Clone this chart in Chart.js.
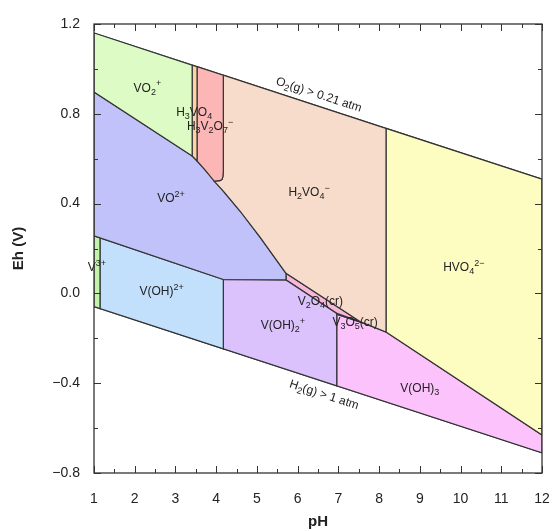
<!DOCTYPE html>
<html>
<head>
<meta charset="utf-8">
<script src="https://cdn.jsdelivr.net/npm/chart.js@4.4.0/dist/chart.umd.min.js"></script>
<style>
  html, body { margin: 0; padding: 0; background: #fff; }
  #wrap { width: 553px; height: 531px; }
</style>
</head>
<body>
<div id="wrap"><canvas id="myChart"></canvas></div>
<script>
// water stability lines [pH, Eh]
var o2Line = [[1, 1.160], [12, 0.509]];
var h2Line = [[1, -0.059], [12, -0.710]];

// predominance fields, each a closed outline of [pH, Eh] points
var vo2Field    = [[1, 1.160], [3.41, 1.017], [3.41, 0.612], [1, 0.897]];
var h3vo4Field  = [[3.41, 1.017], [3.53, 1.010], [3.53, 0.590], [3.41, 0.612]];
var h3v2o7Field = [[3.53, 1.010], [4.175, 0.972], [4.175, 0.545], [4.165, 0.520], [4.14, 0.507], [4.09, 0.502], [3.95, 0.500], [3.725, 0.550], [3.53, 0.590]];
var h2vo4Field  = [[4.175, 0.972], [8.17, 0.735], [8.17, -0.172], [7.55, -0.127], [5.714, 0.0895], [5.076, 0.251], [4.585, 0.367], [4.175, 0.456], [3.95, 0.500], [4.09, 0.502], [4.14, 0.507], [4.165, 0.520], [4.175, 0.545]];
var hvo4Field   = [[8.17, 0.735], [12, 0.509], [12, -0.631], [8.17, -0.172]];
var vo2pField   = [[1, 0.897], [3.41, 0.612], [3.53, 0.590], [3.725, 0.550], [3.922, 0.510], [4.175, 0.456], [4.585, 0.367], [5.076, 0.251], [5.714, 0.0895], [5.714, 0.060], [4.175, 0.062], [1, 0.256]];
var v3Field     = [[1, 0.256], [1.147, 0.247], [1.147, -0.068], [1, -0.059]];
var voh2pField  = [[1.147, 0.247], [4.175, 0.062], [4.175, -0.247], [1.147, -0.068]];
var voh2Field   = [[4.175, 0.062], [5.714, 0.060], [6.96, -0.089], [6.96, -0.412], [4.175, -0.247]];
var v2o4Field   = [[5.714, 0.0895], [7.55, -0.127], [6.96, -0.089], [5.714, 0.060]];
var v3o5Field   = [[6.96, -0.089], [7.55, -0.127], [7.62, -0.133], [6.96, -0.093]];
var voh3Field   = [[6.96, -0.093], [7.62, -0.133], [8.17, -0.172], [12, -0.631], [12, -0.710], [6.96, -0.412]];

var fields = [vo2Field, h3vo4Field, h3v2o7Field, h2vo4Field, hvo4Field, vo2pField, v3Field, voh2pField, voh2Field, v2o4Field, v3o5Field, voh3Field];
var fieldColors = ['#ddfbc4', '#fcd2a6', '#fcb6b6', '#f8dccb', '#fdfdc2', '#c2c2fa', '#c2f4ac', '#c2e0fc', '#dcc2fc', '#f8b6d8', '#f4bcf0', '#fcc2fc'];

// field names (_ sub, ^ sup) and where they sit
var labelText = ['VO_2^+', 'H_3VO_4', 'H_3V_2O_7^−', 'VO^{2+}', 'H_2VO_4^−', 'HVO_4^{2−}', 'V^{3+}', 'V(OH)^{2+}', 'V_2O_4(cr)', 'V(OH)_2^+', 'V_3O_5(cr)', 'V(OH)_3'];
var labelPH = [2.31, 3.46, 3.85, 2.89, 6.28, 10.08, 1.07, 2.66, 6.56, 5.64, 7.41, 9.0];
var labelEh = [0.914, 0.804, 0.741, 0.420, 0.447, 0.113, 0.113, 0.008, -0.037, -0.145, -0.132, -0.423];

var lineText = ['O_2(g) > 0.21 atm', 'H_2(g) > 1 atm'];
var linePH = [6.52, 6.65];
var lineEh = [0.884, -0.453];

Chart.defaults.font.family = '"Liberation Sans", Arial, sans-serif';
Chart.defaults.color = '#222';

function toPoints(arr) {
  var pts = arr.map(function (p) { return {x: p[0], y: p[1]}; });
  pts.push({x: arr[0][0], y: arr[0][1]});
  return pts;
}

var datasets = fields.map(function (f, i) {
  return {
    data: toPoints(f),
    showLine: true,
    fill: 'shape',
    backgroundColor: fieldColors[i],
    borderColor: '#333',
    borderWidth: 1.2,
    pointRadius: 0,
    tension: 0
  };
});
[o2Line, h2Line].forEach(function (l) {
  datasets.push({
    data: l.map(function (p) { return {x: p[0], y: p[1]}; }),
    showLine: true, fill: false, borderColor: '#333', borderWidth: 1.2, pointRadius: 0
  });
});

function parseChem(s) {
  var out = [], i = 0, buf = '';
  while (i < s.length) {
    var c = s[i];
    if (c === '_' || c === '^') {
      if (buf) { out.push({t: buf, m: 0}); buf = ''; }
      var mode = c === '_' ? 1 : -1, txt;
      if (s[i + 1] === '{') {
        var j = s.indexOf('}', i);
        txt = s.slice(i + 2, j); i = j + 1;
      } else { txt = s[i + 1]; i += 2; }
      out.push({t: txt, m: mode});
    } else { buf += c; i++; }
  }
  if (buf) out.push({t: buf, m: 0});
  return out;
}

function drawChem(ctx, s, x, y, size) {
  var segs = parseChem(s);
  var big = size + 'px "Liberation Sans", Arial, sans-serif';
  var small = Math.round(size * 0.72) + 'px "Liberation Sans", Arial, sans-serif';
  var w = 0;
  segs.forEach(function (g) { ctx.font = g.m ? small : big; g.w = ctx.measureText(g.t).width; w += g.w; });
  var cx = x - w / 2;
  ctx.textAlign = 'left';
  ctx.textBaseline = 'middle';
  segs.forEach(function (g) {
    ctx.font = g.m ? small : big;
    var dy = g.m === 1 ? size * 0.32 : (g.m === -1 ? -size * 0.38 : 0);
    ctx.fillText(g.t, cx, y + dy);
    cx += g.w;
  });
}

var framePlugin = {
  id: 'frame',
  afterDraw: function (chart) {
    var ctx = chart.ctx, a = chart.chartArea;
    var xs = chart.scales.x, ys = chart.scales.y;
    ctx.save();
    ctx.strokeStyle = '#333';
    ctx.lineWidth = 1.3;
    ctx.strokeRect(a.left, a.top, a.right - a.left, a.bottom - a.top);
    ctx.lineWidth = 1;
    ctx.beginPath();
    xs.ticks.forEach(function (t) {
      var px = Math.round(xs.getPixelForValue(t.value)) + 0.5;
      var len = Math.abs(t.value - Math.round(t.value)) < 1e-6 ? 7 : 4;
      ctx.moveTo(px, a.bottom); ctx.lineTo(px, a.bottom - len);
      ctx.moveTo(px, a.top); ctx.lineTo(px, a.top + len);
    });
    ys.ticks.forEach(function (t) {
      var py = Math.round(ys.getPixelForValue(t.value)) + 0.5;
      var r = t.value / 0.4;
      var len = Math.abs(r - Math.round(r)) < 1e-6 ? 7 : 4;
      ctx.moveTo(a.left, py); ctx.lineTo(a.left + len, py);
      ctx.moveTo(a.right, py); ctx.lineTo(a.right - len, py);
    });
    ctx.stroke();
    ctx.restore();
  }
};

var labelPlugin = {
  id: 'chemLabels',
  afterDatasetsDraw: function (chart) {
    var ctx = chart.ctx, xs = chart.scales.x, ys = chart.scales.y;
    ctx.save();
    ctx.fillStyle = '#222';
    labelText.forEach(function (s, i) {
      drawChem(ctx, s, xs.getPixelForValue(labelPH[i]), ys.getPixelForValue(labelEh[i]), 12);
    });
    // slope of the water lines in pixels
    var ang = Math.atan2(ys.getPixelForValue(o2Line[1][1]) - ys.getPixelForValue(o2Line[0][1]),
                         xs.getPixelForValue(o2Line[1][0]) - xs.getPixelForValue(o2Line[0][0]));
    lineText.forEach(function (s, i) {
      ctx.save();
      ctx.translate(xs.getPixelForValue(linePH[i]), ys.getPixelForValue(lineEh[i]));
      ctx.rotate(ang);
      drawChem(ctx, s, 0, 0, 12);
      ctx.restore();
    });
    ctx.restore();
  }
};

var ctx = document.getElementById('myChart');
var myChart = new Chart(ctx, {
  type: 'scatter',
  data: { datasets: datasets },
  options: {
    responsive: true,
    maintainAspectRatio: false,
    animation: false,
    layout: { padding: { left: 0, right: 0, top: 24, bottom: 0 } },
    plugins: { legend: { display: false }, tooltip: { enabled: false } },
    scales: {
      x: {
        type: 'linear', min: 1, max: 12,
        grid: { display: false }, border: { display: false },
        ticks: {
          stepSize: 0.5, autoSkip: false, maxRotation: 0, padding: 10,
          font: { size: 14 },
          callback: function (v) { return Math.abs(v - Math.round(v)) < 1e-6 ? String(Math.round(v)) : ''; }
        },
        title: { display: true, text: 'pH', font: { size: 15, weight: 'bold' }, padding: { top: 0, bottom: 0 } },
        afterFit: function (s) { s.height = 58; s.paddingLeft = 0; s.paddingRight = 11; }
      },
      y: {
        type: 'linear', min: -0.8, max: 1.2,
        grid: { display: false }, border: { display: false },
        ticks: {
          stepSize: 0.2, autoSkip: false, padding: 6,
          font: { size: 14 },
          callback: function (v) {
            var r = v / 0.4;
            if (Math.abs(r - Math.round(r)) > 1e-6) return '';
            return (Math.round(v * 10) / 10).toFixed(1).replace('-', '\u2212');
          }
        },
        title: { display: true, text: 'Eh (V)', font: { size: 15, weight: 'bold' }, padding: { top: 10, bottom: 0 } },
        afterFit: function (s) { s.width = 94; }
      }
    }
  },
  plugins: [framePlugin, labelPlugin]
});
</script>
</body>
</html>
